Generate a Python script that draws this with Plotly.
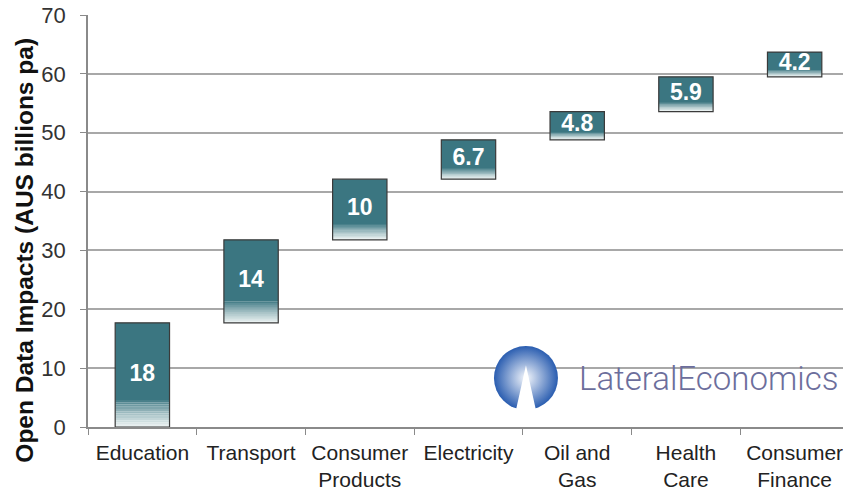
import plotly.graph_objects as go

CATEGORIES = ["Education", "Transport", "Consumer<br>Products", "Electricity",
              "Oil and<br>Gas", "Health<br>Care", "Consumer<br>Finance"]
VALUES = [17.7, 14.1, 10.3, 6.7, 4.8, 5.9, 4.2]
LABELS = ["18", "14", "10", "6.7", "4.8", "5.9", "4.2"]
Y_TICKS = [0, 10, 20, 30, 40, 50, 60, 70]

TEAL = "#3b7681"
GRADIENT_SHARE = 0.26
GRADIENT_STEPS = 12
BAR_WIDTH = 0.5


def blend(c1, c2, t):
    a = [int(c1[i:i + 2], 16) for i in (1, 3, 5)]
    b = [int(c2[i:i + 2], 16) for i in (1, 3, 5)]
    return "#" + "".join(f"{round(x + (y - x) * t):02x}" for x, y in zip(a, b))


bases = []
running = 0.0
for v in VALUES:
    bases.append(running)
    running += v

fig = go.Figure()

# solid upper part of each floating bar
solid = [v * (1 - GRADIENT_SHARE) for v in VALUES]
solid_base = [b + v * GRADIENT_SHARE for b, v in zip(bases, VALUES)]
fig.add_trace(go.Bar(x=CATEGORIES, y=solid, base=solid_base, width=BAR_WIDTH,
                     marker=dict(color=TEAL, line=dict(width=0)), hoverinfo="skip"))

# faded bottom part, built from thin slices
for k in range(GRADIENT_STEPS):
    t = (k + 0.5) / GRADIENT_STEPS
    step = [v * GRADIENT_SHARE / GRADIENT_STEPS for v in VALUES]
    step_base = [b + v * GRADIENT_SHARE * (1 - (k + 1) / GRADIENT_STEPS) for b, v in zip(bases, VALUES)]
    fig.add_trace(go.Bar(x=CATEGORIES, y=step, base=step_base, width=BAR_WIDTH,
                         marker=dict(color=blend(TEAL, "#eef4f4", t ** 0.8), line=dict(width=0)),
                         hoverinfo="skip"))

# outline
fig.add_trace(go.Bar(x=CATEGORIES, y=VALUES, base=bases, width=BAR_WIDTH,
                     marker=dict(color="rgba(0,0,0,0)", line=dict(color="#3a3a3a", width=1.2)),
                     hovertemplate="%{x}: %{y}<extra></extra>"))

# value labels
fig.add_trace(go.Scatter(x=CATEGORIES, y=[b + v / 2 for b, v in zip(bases, VALUES)],
                         mode="text", text=LABELS, cliponaxis=False, hoverinfo="skip",
                         textfont=dict(family="Liberation Sans, Arial", size=23, color="white",
                                       weight="bold")))

# logo: white backing, blue sphere with a notch, wordmark
fig.add_shape(type="rect", xref="paper", yref="paper", x0=0.53, x1=0.985, y0=0.02, y1=0.225,
              fillcolor="white", line=dict(width=0), layer="between")
fig.add_trace(go.Scatter(x=[0.5755], y=[0.119], xaxis="x2", yaxis="y2", mode="markers",
                         marker=dict(size=64, color="#2a5db0", line=dict(width=0),
                                     gradient=dict(type="radial", color="#f4f7fc")),
                         hoverinfo="skip"))
fig.add_shape(type="path", xref="paper", yref="paper",
              path="M 0.5755 0.15 L 0.561 0.03 L 0.590 0.03 Z",
              fillcolor="white", line=dict(width=0))
fig.add_annotation(text="LateralEconomics", xref="paper", yref="paper", x=0.643, y=0.118,
                   showarrow=False, xanchor="left", yanchor="middle",
                   font=dict(family="Roboto, Liberation Sans", size=33, weight=300,
                             color="#6c6e9c"))

# y title sits a little below the plot's middle in the original
fig.add_annotation(text="<b>Open Data Impacts (AUS billions pa)</b>", textangle=-90,
                   xref="paper", yref="paper", x=-0.083, y=0.43,
                   xanchor="center", yanchor="middle", showarrow=False,
                   font=dict(size=24.5, color="#111111"))

# page body has an 8px margin, so the figure is sized to fit inside it
fig.update_layout(
    width=843, height=483,
    barmode="overlay",
    showlegend=False,
    plot_bgcolor="white", paper_bgcolor="white",
    margin=dict(l=80, r=2, t=7, b=64),
    font=dict(family="Liberation Sans, Arial", color="#222222"),
    xaxis=dict(showline=True, linecolor="#8a8a8a", linewidth=1.5, automargin=False,
               ticks="outside", tickson="boundaries", ticklen=6, tickcolor="#8a8a8a",
               ticklabelstandoff=6, ticklabeloverflow="allow",
               tickfont=dict(size=21, color="#222222")),
    yaxis=dict(range=[0, 70], tickvals=Y_TICKS, automargin=False,
               showline=True, mirror=True, linecolor="#8a8a8a", linewidth=1.5,
               ticks="outside", ticklen=6, tickcolor="#8a8a8a", ticklabelstandoff=10,
               ticklabeloverflow="allow",
               showgrid=True, gridcolor="#a8a8a8", gridwidth=2, zeroline=False,
               tickfont=dict(size=22, color="#333333")),
    xaxis2=dict(range=[0, 1], overlaying="x", visible=False),
    yaxis2=dict(range=[0, 1], overlaying="y", visible=False),
)

fig.write_html("out.html")
